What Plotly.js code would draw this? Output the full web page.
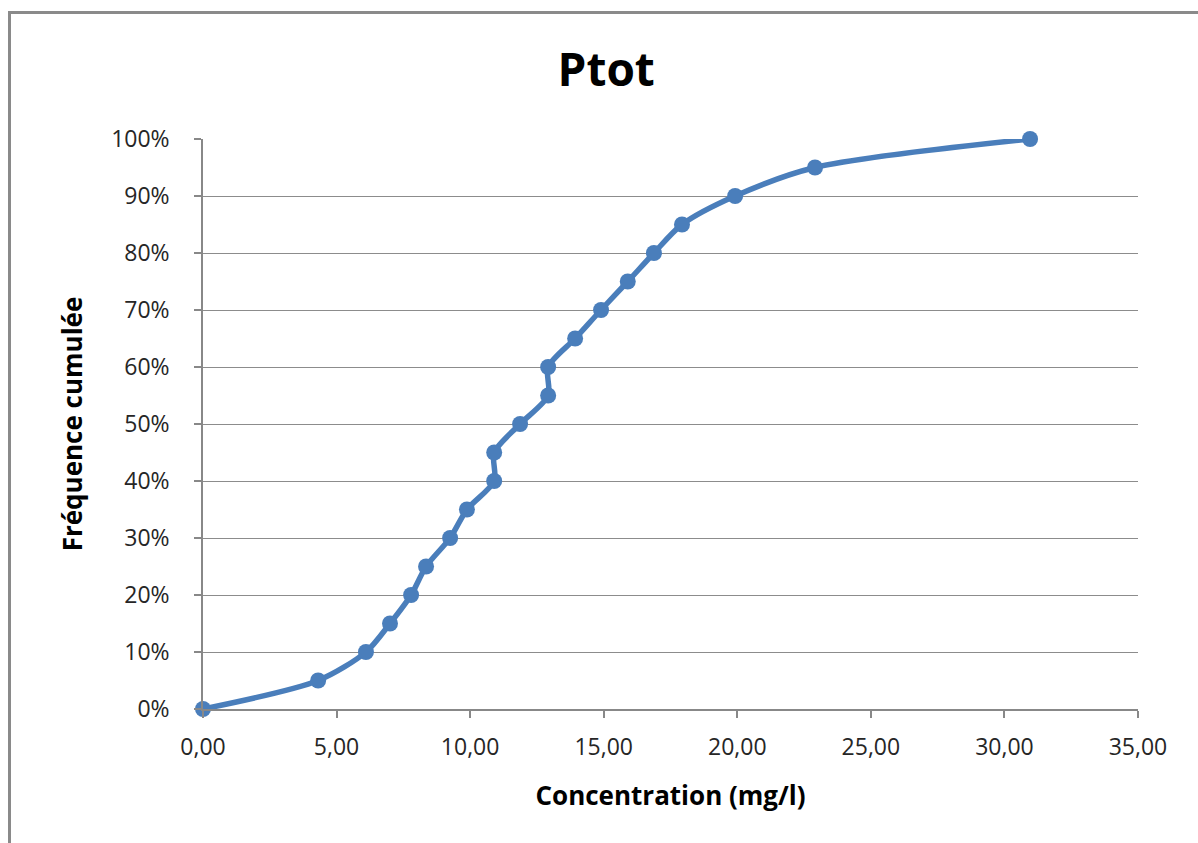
<!DOCTYPE html>
<html>
<head>
<meta charset="utf-8">
<script src="https://cdn.plot.ly/plotly-3.0.1.min.js"></script>
<style>
html,body{margin:0;padding:0;background:#fff;overflow:hidden;}
#frame{position:absolute;left:8px;top:11px;width:1200px;height:840px;border-left:3px solid #8a8a8a;border-top:3px solid #8a8a8a;}
#chart{position:absolute;left:0;top:0;width:1198px;height:843px;}
</style>
</head>
<body>
<div id="frame"></div>
<div id="chart"></div>
<script>
const concentration = [0, 4.31, 6.1, 7.0, 7.79, 8.35, 9.25, 9.88, 10.9, 10.9, 11.87, 12.92, 12.92, 13.93, 14.9, 15.9, 16.88, 17.93, 19.92, 22.91, 30.96];
const frequence = [0, 0.05, 0.10, 0.15, 0.20, 0.25, 0.30, 0.35, 0.40, 0.45, 0.50, 0.55, 0.60, 0.65, 0.70, 0.75, 0.80, 0.85, 0.90, 0.95, 1.00];
const xTicks = [0, 5, 10, 15, 20, 25, 30, 35];
const yTicks = [0, 0.1, 0.2, 0.3, 0.4, 0.5, 0.6, 0.7, 0.8, 0.9, 1.0];

const fontFam = '"Open Sans", "Noto Sans", sans-serif';
const trace = {
  x: concentration, y: frequence, type: 'scatter', mode: 'lines+markers',
  line: {color: '#4A7EBB', width: 5.5, shape: 'spline', smoothing: 0.8},
  marker: {color: '#4A7EBB', size: 16},
  cliponaxis: false, hoverinfo: 'x+y'
};
const layout = {
  width: 1198, height: 843,
  paper_bgcolor: 'rgba(0,0,0,0)', plot_bgcolor: 'rgba(0,0,0,0)',
  margin: {l: 203, r: 60, t: 139, b: 134},
  separators: ',.',
  showlegend: false,
  font: {family: fontFam, color: '#262626'},
  title: {text: '<b>Ptot</b>', font: {size: 46, color: '#000', family: fontFam}, x: 0.506, xref: 'container', y: 0.917, yref: 'container', yanchor: 'middle'},
  xaxis: {
    range: [0, 35], tickvals: xTicks, tickformat: '.2f', showgrid: false, zeroline: false,
    showline: true, linecolor: '#888', linewidth: 1.5,
    ticks: 'outside', ticklen: 7, tickcolor: '#888', tickwidth: 1.5,
    ticklabelstandoff: 10,
    tickfont: {size: 23, color: '#262626'},
    title: {text: '<b>Concentration (mg/l)</b>', font: {size: 26, color: '#000'}, standoff: 25}
  },
  yaxis: {
    range: [0, 1], tickvals: yTicks, tickformat: '.0%', showgrid: true, gridcolor: '#8c8c8c', gridwidth: 1.2,
    zeroline: false, showline: true, linecolor: '#888', linewidth: 1.5,
    ticks: 'outside', ticklen: 7, tickcolor: '#888', tickwidth: 1.5,
    ticklabelstandoff: 20,
    tickfont: {size: 23, color: '#262626'},
    title: {text: '<b>Fréquence cumulée</b>', font: {size: 26, color: '#000'}, standoff: 21}
  }
};
Plotly.newPlot('chart', [trace], layout, {displayModeBar: false, staticPlot: false});
</script>
</body>
</html>
